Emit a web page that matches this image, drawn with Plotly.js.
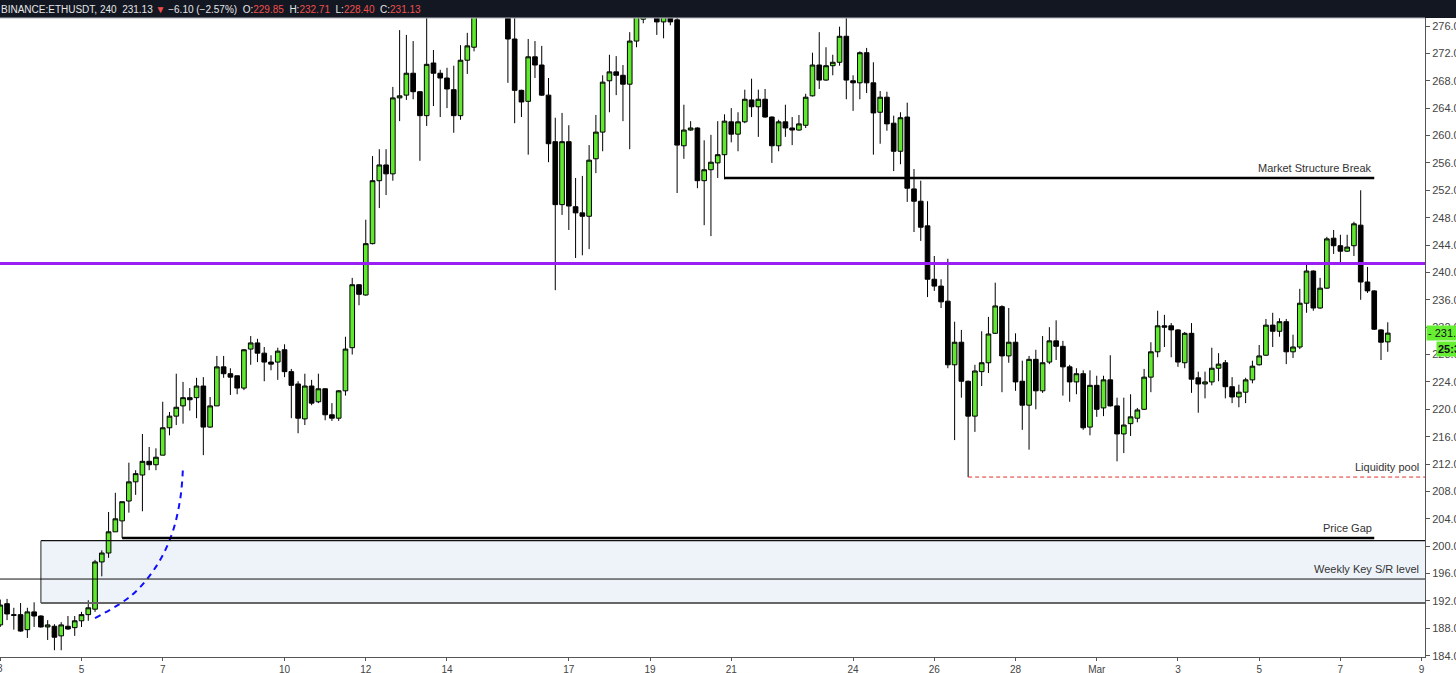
<!DOCTYPE html>
<html>
<head>
<meta charset="utf-8">
<script src="https://cdn.plot.ly/plotly-3.0.1.min.js"></script>
<style>
html,body{margin:0;padding:0;background:#fff;}
#chart{width:1456px;height:673px;}
</style>
</head>
<body>
<div id="chart"></div>
<script>
// ETHUSDT 4h candles, first bar 2020-02-03 00:00
const startTime = '2020-02-03 00:00';
const barHours = 4;
const openP = [188.5,191.6,190.0,190.0,187.8,190.4,189.8,188.2,188.3,186.9,188.3,188.1,189.1,190.0,190.8,197.7,199.0,202.1,203.7,206.6,
209.4,210.4,212.4,211.9,213.3,217.3,219.0,220.5,221.7,221.7,223.4,217.4,220.5,226.2,225.2,224.9,223.1,228.8,229.7,228.2,
226.9,226.9,228.7,225.5,223.7,218.6,223.4,221.1,223.0,219.2,218.7,222.7,229.0,238.2,236.7,244.2,253.4,255.7,254.4,265.5,
265.9,269.1,266.4,262.9,270.6,269.1,268.4,266.7,262.9,271.0,272.9,278.5,284.0,281.0,285.0,280.0,274.1,266.6,265.0,271.5,
270.3,265.9,259.1,249.9,259.1,249.6,248.7,248.2,256.6,260.5,268.0,269.3,268.8,267.5,273.8,277.0,281.0,278.0,276.6,278.0,
276.9,258.5,260.8,261.1,253.4,255.0,256.0,257.2,262.0,260.2,262.0,265.2,264.2,265.3,262.7,258.5,262.0,261.1,260.8,261.5,
265.8,270.3,268.1,270.2,270.7,274.5,268.0,267.7,272.1,267.7,263.4,265.6,261.8,257.7,262.7,252.2,250.4,246.8,239.0,238.0,
235.8,226.5,229.8,224.1,219.0,225.5,226.8,231.1,235.0,227.8,229.8,224.1,220.6,227.3,222.7,226.9,230.0,229.2,226.2,224.0,
225.2,217.4,223.5,220.2,224.3,220.5,216.4,217.9,218.7,220.0,224.7,228.4,232.2,232.2,231.6,226.8,231.1,224.6,223.7,224.0,
226.0,226.8,223.3,221.8,222.5,224.3,226.5,227.9,232.3,231.4,232.8,228.4,229.1,235.5,240.2,234.8,237.7,245.0,243.9,243.1,
243.9,246.9,238.6,237.3,231.6,229.85];
const highP = [192.2,192.3,191.0,191.7,191.0,191.8,189.9,189.2,188.6,188.9,189.8,189.8,190.4,192.1,198.0,199.4,205.0,207.8,206.5,212.2,
211.1,216.4,214.5,214.3,221.1,219.6,225.2,224.0,223.1,224.6,224.7,221.8,227.8,227.8,226.0,224.9,228.8,230.7,230.3,229.1,
227.9,229.0,229.5,225.9,224.1,225.2,224.3,225.2,223.1,220.9,222.8,230.6,239.2,238.3,247.7,257.0,258.0,258.0,267.1,275.4,
274.7,273.8,266.5,279.0,272.5,269.6,269.9,270.2,273.2,275.0,281.0,287.0,288.0,290.0,286.0,281.0,278.0,266.7,274.1,273.8,
273.1,268.4,262.6,263.3,261.5,253.8,254.1,258.6,263.0,268.8,271.8,271.6,270.3,275.1,280.0,280.0,282.0,280.0,280.0,279.0,
278.0,264.5,262.1,261.2,259.3,260.1,262.1,263.1,264.0,263.4,266.7,268.3,266.7,266.8,262.8,262.3,264.5,262.7,263.0,266.1,
272.1,275.1,272.9,271.8,275.9,277.2,268.8,272.3,272.8,270.7,266.5,266.4,262.9,263.4,264.8,255.1,253.4,250.4,242.4,239.0,
242.0,232.8,231.6,224.2,226.5,231.4,233.5,238.5,235.2,234.8,231.1,227.1,227.8,228.7,230.7,232.0,233.0,230.0,226.5,226.0,
225.7,225.7,224.9,224.9,227.9,221.7,221.7,222.2,220.2,225.9,229.8,234.4,233.8,232.6,231.7,231.3,232.6,225.5,225.5,229.0,
228.2,227.2,224.7,223.6,224.6,227.1,229.4,233.2,234.1,233.3,233.2,230.9,237.6,241.2,240.3,239.2,245.2,246.2,245.5,245.5,
247.4,252.0,240.8,237.4,231.7,232.71];
const lowP = [188.2,189.2,187.8,187.5,186.6,188.2,188.1,186.3,184.8,184.8,187.8,186.9,188.2,189.1,190.4,195.6,198.3,202.1,201.2,204.9,
207.5,205.1,211.1,211.1,213.3,216.2,217.7,217.9,219.8,218.7,213.3,217.3,220.5,224.6,222.1,222.2,222.8,226.5,226.9,224.1,
225.7,224.3,224.7,218.7,216.5,217.7,220.6,220.9,218.4,218.3,218.3,222.0,228.0,235.2,236.6,244.1,249.4,251.3,253.4,262.1,
265.2,265.3,256.3,261.4,264.3,262.7,264.0,260.4,262.3,269.0,272.3,278.0,279.0,279.0,278.0,267.7,261.8,262.7,257.2,268.4,
265.8,256.1,237.4,248.4,246.2,242.1,242.5,243.4,254.5,257.7,263.4,265.9,262.1,258.0,272.9,276.4,277.5,274.7,274.2,276.1,
251.6,256.6,260.7,252.3,246.9,245.3,253.8,253.6,259.0,257.7,261.8,262.7,259.8,262.6,256.0,257.7,259.8,258.6,260.7,261.1,
265.7,266.8,268.0,268.8,270.2,265.3,263.6,265.3,266.2,257.2,258.8,260.7,254.8,255.8,250.3,245.9,244.6,236.4,237.3,234.8,
226.0,215.5,221.7,210.1,216.7,223.4,225.3,231.0,222.5,226.8,222.7,217.0,214.1,220.0,222.4,226.6,227.2,222.0,221.1,222.2,
217.0,216.2,218.9,219.0,220.4,212.4,213.6,216.1,218.1,219.9,222.5,227.6,229.1,227.6,226.2,226.0,222.4,219.5,221.6,223.5,
224.1,221.6,220.9,220.3,220.9,223.8,226.4,227.8,229.1,230.6,226.6,227.5,228.8,234.1,234.4,234.7,237.6,242.7,241.4,243.0,
242.4,236.0,237.0,231.6,227.2,228.40];
const closeP = [191.4,190.1,189.9,187.6,190.4,189.8,188.2,188.5,186.7,188.5,187.9,189.1,190.0,191.0,197.7,199.0,202.1,204.0,206.5,209.4,
210.6,212.4,211.9,213.0,217.3,219.0,220.3,221.7,221.4,223.4,217.4,220.5,226.2,225.2,224.7,223.1,228.7,229.7,228.2,226.9,
226.6,228.5,225.5,223.5,218.7,223.4,220.9,223.0,219.2,218.7,222.7,228.8,238.2,236.8,244.2,253.4,255.7,254.4,265.5,265.8,
269.1,266.4,262.9,270.4,269.1,268.4,266.8,262.9,271.0,273.1,278.5,284.0,281.0,285.0,280.0,274.1,266.6,264.9,271.5,270.3,
265.9,258.8,249.9,259.1,249.7,248.7,248.2,256.4,260.5,267.8,269.3,268.8,267.5,273.8,278.0,279.0,279.0,276.6,278.0,276.6,
258.6,260.8,261.1,253.4,255.0,256.1,257.2,262.1,260.2,262.0,265.3,264.2,265.3,262.7,258.5,262.0,261.1,260.8,261.7,265.6,
270.3,268.1,270.2,270.7,274.5,268.1,267.7,272.1,267.7,263.3,265.6,261.7,257.7,262.6,252.3,250.4,246.6,239.0,238.0,235.7,
226.5,229.8,224.1,219.0,225.6,226.8,231.0,235.1,227.8,229.8,224.0,220.6,227.3,222.7,226.8,230.0,229.2,226.2,224.0,225.2,
217.3,223.5,220.0,224.3,220.5,216.4,217.7,218.9,219.9,224.7,228.4,232.2,232.0,231.6,226.9,231.1,224.4,223.7,224.0,226.0,
226.6,223.3,221.8,222.5,224.3,226.3,227.8,232.3,231.4,232.8,228.4,229.1,235.5,240.2,234.8,237.7,244.9,243.9,243.1,243.7,
247.1,238.6,237.3,231.7,229.8,231.13];

// chart drawings (levels in price, anchors in bar index)
const levelPurple = 241.3;
const levelMSB = 253.8, msbFromBar = 107, msbToBar = 203;
const levelGap = 201.2, gapFromBar = 18, gapToBar = 203;
const zoneTop = 200.8, zoneBottom = 191.7, zoneFromBar = 6;
const levelWeekly = 195.2;
const levelLiquidity = 210.1, liqFromBar = 143;
const curveBars = [14.0, 19.5, 23.2, 25.4, 26.6, 27.0];
const curvePrices = [189.5, 192.9, 197.3, 201.9, 207.0, 211.6];
const lastPrice = 231.13;

function pad(n){return (n<10?'0':'')+n;}
const t0 = Date.UTC(2020,1,3,0,0,0);
function barTime(i){
  const d = new Date(t0 + i*barHours*3600*1000);
  return d.getUTCFullYear()+'-'+pad(d.getUTCMonth()+1)+'-'+pad(d.getUTCDate())+' '+pad(d.getUTCHours())+':'+pad(d.getUTCMinutes());
}
const times = openP.map((_,i)=>barTime(i));

const green = '#5fe82e';
const candles = {
  type:'candlestick', x:times, open:openP, high:highP, low:lowP, close:closeP,
  increasing:{line:{color:'#000',width:1}, fillcolor:green},
  decreasing:{line:{color:'#000',width:1}, fillcolor:'#000'},
  whiskerwidth:0, hoverinfo:'skip', showlegend:false
};
const curve = {
  type:'scatter', mode:'lines', x:curveBars.map(barTime), y:curvePrices,
  line:{color:'#1010ff', width:2, dash:'6px,5px', shape:'spline'},
  hoverinfo:'skip', showlegend:false
};

const xStart = '2020-02-02 23:50', xEnd = '2020-03-09 02:00';
const tickDates = ['2020-02-03','2020-02-05','2020-02-07','2020-02-10','2020-02-12','2020-02-14','2020-02-17','2020-02-19','2020-02-21','2020-02-24','2020-02-26','2020-02-28','2020-03-01','2020-03-03','2020-03-05','2020-03-07','2020-03-09'];
const tickText = ['3','5','7','10','12','14','17','19','21','24','26','28','Mar','3','5','7','9'];

const W = 1456, H = 673, mL = 0, mR = 31, mT = 18, mB = 16;
const pw = W-mL-mR, ph = H-mT-mB;
function px(x){return (x-mL)/pw;}

const shapes = [
  // header bar
  {type:'rect', xref:'paper', yref:'paper', x0:-0.01, x1:1.05, y0:1, y1:1+mT/ph+0.01, fillcolor:'#131722', line:{width:0}, layer:'above'},
  {type:'line', xref:'paper', yref:'paper', x0:0, x1:1, y0:1, y1:1, line:{color:'#b8b8c0', width:1}},
  // zone
  {type:'rect', xref:'x', yref:'y', x0:barTime(zoneFromBar), x1:xEnd, y0:zoneBottom, y1:zoneTop, fillcolor:'#eef3fa', line:{width:0}, layer:'below'},
  {type:'line', xref:'x', yref:'y', x0:barTime(zoneFromBar), x1:xEnd, y0:zoneTop, y1:zoneTop, line:{color:'#111', width:1.3}},
  {type:'line', xref:'x', yref:'y', x0:barTime(zoneFromBar), x1:xEnd, y0:zoneBottom, y1:zoneBottom, line:{color:'#666', width:2}},
  {type:'line', xref:'x', yref:'y', x0:barTime(zoneFromBar), x1:barTime(zoneFromBar), y0:zoneBottom, y1:zoneTop, line:{color:'#555', width:1.3}},
  // weekly level
  {type:'line', xref:'x', yref:'y', x0:xStart, x1:xEnd, y0:levelWeekly, y1:levelWeekly, line:{color:'#111', width:1}},
  // price gap
  {type:'line', xref:'x', yref:'y', x0:barTime(gapFromBar), x1:barTime(gapToBar), y0:levelGap, y1:levelGap, line:{color:'#000', width:2.5}},
  // market structure break
  {type:'line', xref:'x', yref:'y', x0:barTime(msbFromBar), x1:barTime(msbToBar), y0:levelMSB, y1:levelMSB, line:{color:'#000', width:2.5}},
  // liquidity pool
  {type:'line', xref:'x', yref:'y', x0:barTime(liqFromBar), x1:xEnd, y0:levelLiquidity, y1:levelLiquidity, line:{color:'#e0302a', width:1, dash:'4px,3px'}},
  // purple level
  {type:'line', xref:'x', yref:'y', x0:xStart, x1:xEnd, y0:levelPurple, y1:levelPurple, line:{color:'#9a1ff2', width:3}}
];

const lblFont = {family:'Liberation Sans, Arial, sans-serif', size:11, color:'#333'};
const annotations = [
  {xref:'x', yref:'y', x:barTime(msbToBar), y:levelMSB, xanchor:'right', yanchor:'bottom', yshift:2, text:'Market Structure Break', showarrow:false, font:lblFont},
  {xref:'x', yref:'y', x:barTime(gapToBar), y:levelGap, xanchor:'right', yanchor:'bottom', yshift:2, text:'Price Gap', showarrow:false, font:lblFont},
  {xref:'paper', yref:'y', x:px(1421), y:levelWeekly, xanchor:'right', yanchor:'bottom', yshift:2, text:'Weekly Key S/R level', showarrow:false, font:lblFont},
  {xref:'paper', yref:'y', x:px(1421), y:levelLiquidity, xanchor:'right', yanchor:'bottom', yshift:2, text:'Liquidity pool', showarrow:false, font:lblFont},
  // current price label
  {xref:'paper', yref:'y', x:1, xshift:1, y:lastPrice, xanchor:'left', yanchor:'middle', text:'- 231.13', showarrow:false,
   bgcolor:'#66ee33', borderpad:1, font:{family:'Liberation Sans, Arial, sans-serif', size:11, color:'#111'}},
  {xref:'paper', yref:'y', x:1, xshift:11, y:lastPrice, yshift:-16, xanchor:'left', yanchor:'middle', text:'<b>25:31</b>', showarrow:false,
   bgcolor:'#66ee33', borderpad:1, font:{family:'Liberation Sans, Arial, sans-serif', size:11, color:'#111'}},
  // partially visible first day label at the left edge
  {xref:'paper', yref:'paper', x:0, y:0, yshift:-4, xanchor:'center', yanchor:'top', text:'3', showarrow:false,
   font:{family:'Liberation Sans, Arial, sans-serif', size:10, color:'#444'}}
];
// header text
const W_ = '#e6e6e6', R_ = '#ef4f4c';
const sp = (c,t)=>'<span style="color:'+c+'">'+t+'</span>';
const hdrText = sp(W_,'BINANCE:ETHUSDT, 240&nbsp;&nbsp;231.13&nbsp;')+sp(R_,'▼')+sp(W_,'&nbsp;−6.10 (−2.57%)&nbsp;&nbsp;O:')+sp(R_,'229.85')+
  sp(W_,'&nbsp;&nbsp;H:')+sp(R_,'232.71')+sp(W_,'&nbsp;&nbsp;L:')+sp(R_,'228.40')+sp(W_,'&nbsp;&nbsp;C:')+sp(R_,'231.13');
annotations.push({xref:'paper', yref:'paper', x:0, y:1+(mT/2)/ph, xanchor:'left', yanchor:'middle', xshift:-1, text:hdrText, showarrow:false,
  font:{family:'Liberation Sans, Arial, sans-serif', size:10, color:W_}});

const layout = {
  width:W, height:H, margin:{l:mL, r:mR, t:mT, b:mB, pad:0},
  paper_bgcolor:'#fff', plot_bgcolor:'#fff', showlegend:false,
  boxgap:0.02, boxgroupgap:0.3,
  xaxis:{type:'date', range:[xStart,xEnd], rangeslider:{visible:false}, showgrid:false, zeroline:false,
    tickmode:'array', tickvals:tickDates, ticktext:tickText, ticks:'outside', ticklen:3, tickcolor:'#555',
    showline:true, linecolor:'#555', linewidth:1, tickfont:{family:'Liberation Sans, Arial, sans-serif', size:10, color:'#444'}},
  yaxis:{side:'right', range:[183.81,277.17], dtick:4, tick0:0, tickformat:'.1f', showgrid:false, zeroline:false,
    ticks:'outside', ticklen:4, tickcolor:'#555', showline:true, linecolor:'#555', linewidth:1, ticklabeloverflow:'allow',
    tickfont:{family:'Liberation Sans, Arial, sans-serif', size:11, color:'#444'}},
  shapes:shapes, annotations:annotations
};
Plotly.newPlot('chart',[candles, curve],layout,{displayModeBar:false, staticPlot:true});
</script>
</body>
</html>
